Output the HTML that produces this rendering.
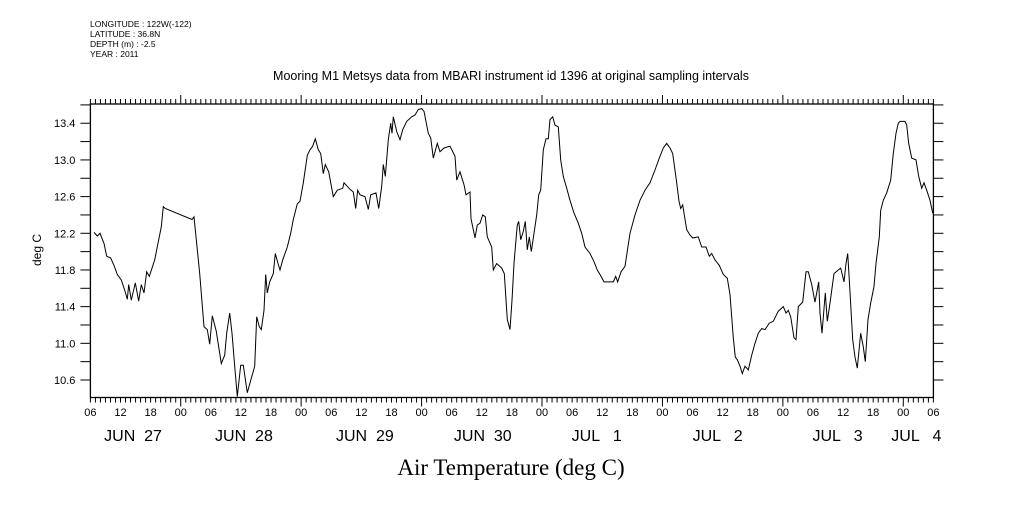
<!DOCTYPE html>
<html><head><meta charset="utf-8"><style>
body{margin:0;background:#fff;}
svg text{font-family:"Liberation Sans",sans-serif;fill:#000;}
</style></head><body>
<svg id="chart" width="1009" height="504" xmlns="http://www.w3.org/2000/svg">
<g font-size="8.5">
<text x="90" y="27">LONGITUDE : 122W(-122)</text>
<text x="90" y="37">LATITUDE : 36.8N</text>
<text x="90" y="47">DEPTH (m) : -2.5</text>
<text x="90" y="57">YEAR : 2011</text>
</g>
<text x="511" y="80" text-anchor="middle" font-size="12.5">Mooring M1 Metsys data from MBARI instrument id 1396 at original sampling intervals</text>
<text transform="translate(41,250) rotate(-90)" text-anchor="middle" font-size="12">deg C</text>
<text x="511" y="475" text-anchor="middle" style="font-family:'Liberation Serif',serif" font-size="23">Air Temperature (deg C)</text>
<g id="axes"></g>
<g id="series"></g>
</svg>
<script>
const yTicks=[10.6,11.0,11.4,11.8,12.2,12.6,13.0,13.4];
const hourLabels=["06","12","18","00","06","12","18","00","06","12","18","00","06","12","18","00","06","12","18","00","06","12","18","00","06","12","18","00","06"];
const dayLabels=["JUN  27","JUN  28","JUN  29","JUN  30","JUL   1","JUL   2","JUL   3","JUL   4"];
const dayLabelHours=[8.5,30.6,54.7,78.2,100.9,125,148.9,164.6];
const times=[0.72,1.38,1.91,2.71,3.25,4.05,4.70,5.36,6.16,6.84,7.35,7.63,8.15,8.95,9.63,10.14,10.68,11.22,11.74,12.81,13.61,14.13,14.53,14.93,20.25,20.65,21.10,21.78,22.64,23.30,23.77,24.29,25.09,25.57,26.09,26.76,27.16,27.76,28.22,28.76,29.27,29.95,30.47,31.27,32.06,32.74,33.14,33.66,34.06,34.60,34.93,35.25,35.73,36.45,36.85,37.39,37.78,38.32,39.24,39.92,40.43,41.23,41.77,42.43,43.22,43.76,44.30,44.82,45.42,45.89,46.41,46.81,47.49,48.41,49.20,50.28,50.54,51.73,52.39,52.87,53.27,53.73,54.72,55.38,55.86,56.92,57.45,58.05,58.37,58.77,59.37,59.84,60.10,60.36,61.04,61.70,62.24,63.03,64.03,64.69,65.35,66.02,66.48,67.34,67.82,68.33,69.13,69.67,70.47,71.66,72.66,73.00,73.65,74.45,74.85,75.65,75.85,76.65,77.10,77.64,78.18,78.70,79.10,79.97,80.29,80.97,81.96,82.48,83.08,83.62,84.02,84.42,84.81,85.07,85.35,85.75,86.27,86.67,87.07,87.47,87.86,88.40,88.94,89.34,89.74,90.26,90.79,91.25,91.59,92.13,92.59,93.24,93.72,94.24,94.92,95.58,96.37,97.23,97.91,98.57,99.56,100.36,101.02,101.55,102.35,103.55,104.21,104.68,105.08,105.74,106.54,107.53,108.53,109.53,110.52,111.52,112.52,113.37,114.17,114.85,115.50,116.04,116.84,117.30,117.64,118.04,118.29,118.83,119.49,120.03,121.14,121.82,122.68,123.34,123.82,124.47,125.33,126.13,126.92,127.46,128.12,128.52,128.92,129.45,129.91,130.45,131.11,131.79,132.44,133.10,133.78,134.44,135.29,136.09,137.09,138.08,138.62,139.08,139.56,140.21,140.61,141.07,141.95,142.61,143.07,143.74,144.40,144.74,145.14,145.40,145.80,146.45,146.85,147.39,148.19,149.04,149.52,150.18,150.58,150.92,151.24,151.92,152.37,152.83,153.51,154.03,154.43,154.97,155.50,156.16,156.56,157.22,157.49,158.01,158.69,159.49,160.01,160.55,161.00,161.34,162.34,162.67,163.07,163.67,164.53,165.07,165.67,166.13,166.66,167.32,167.86];
const temps=[12.21,12.17,12.20,12.09,11.95,11.93,11.85,11.75,11.69,11.58,11.48,11.64,11.47,11.66,11.46,11.64,11.55,11.78,11.73,11.91,12.13,12.27,12.49,12.47,12.35,12.38,12.13,11.76,11.18,11.15,10.99,11.30,11.13,10.96,10.78,10.87,11.11,11.33,11.11,10.75,10.42,10.76,10.76,10.46,10.62,10.75,11.29,11.18,11.15,11.36,11.75,11.55,11.67,11.76,11.98,11.87,11.80,11.91,12.05,12.20,12.35,12.52,12.55,12.75,13.05,13.11,13.15,13.23,13.11,13.07,12.85,12.95,12.87,12.60,12.67,12.69,12.75,12.68,12.65,12.47,12.67,12.62,12.60,12.46,12.62,12.64,12.47,12.71,12.95,12.82,13.22,13.40,13.29,13.47,13.31,13.22,13.33,13.42,13.47,13.49,13.55,13.56,13.53,13.29,13.24,13.02,13.18,13.09,13.13,13.15,13.04,12.78,12.87,12.73,12.62,12.65,12.36,12.15,12.29,12.31,12.40,12.38,12.16,12.05,11.80,11.87,11.82,11.76,11.26,11.15,11.47,11.87,12.13,12.29,12.33,12.13,12.22,12.33,12.02,12.16,12.00,12.20,12.40,12.62,12.67,13.11,13.23,13.23,13.44,13.47,13.38,13.36,13.00,12.82,12.69,12.56,12.42,12.31,12.20,12.05,11.98,11.89,11.80,11.75,11.67,11.67,11.67,11.73,11.67,11.78,11.84,12.20,12.40,12.56,12.67,12.75,12.89,13.02,13.13,13.18,13.13,13.07,12.75,12.55,12.47,12.51,12.42,12.24,12.18,12.15,12.16,12.05,12.05,11.95,11.98,11.91,11.85,11.75,11.71,11.53,11.06,10.85,10.82,10.75,10.67,10.75,10.71,10.87,11.00,11.11,11.16,11.15,11.22,11.24,11.35,11.40,11.33,11.36,11.29,11.06,11.04,11.40,11.45,11.78,11.78,11.64,11.45,11.55,11.67,11.33,11.11,11.55,11.24,11.44,11.76,11.80,11.82,11.67,11.87,11.98,11.69,11.04,10.85,10.73,11.11,10.96,10.80,11.26,11.44,11.62,11.87,12.16,12.45,12.56,12.64,12.78,13.07,13.29,13.40,13.42,13.42,13.38,13.18,13.02,13.00,12.82,12.69,12.75,12.67,12.56,12.42];

const NS="http://www.w3.org/2000/svg";
const L=90.4,R=933.4,T=104,B=397.5,HMAX=168;
const YMAX=13.4+(123.3-T)/91.7;
function xs(h){return L+(h/HMAX)*(R-L);}
function ys(v){return 380-(v-10.6)*91.7;}
const axes=document.getElementById('axes');
function mk(tag,attrs,parent){const e=document.createElementNS(NS,tag);for(const k in attrs)e.setAttribute(k,attrs[k]);parent.appendChild(e);return e;}
const frame=mk('rect',{x:L,y:T,width:R-L,height:B-T,fill:'none',stroke:'#000','stroke-width':1.3},axes);


for(let h=0;h<=HMAX;h++){
  const x=xs(h);const isDay=((h+6)%24===0);const len=isDay?9:5;
  const tb=mk('line',{x1:x,x2:x,y1:B,y2:B+len,stroke:'#000','stroke-width':1},axes);
  
  
  const tt=mk('line',{x1:x,x2:x,y1:T,y2:T-len,stroke:'#000','stroke-width':1},axes);
  
  
}
hourLabels.forEach((s,i)=>{
  const t=mk('text',{x:xs(i*6),y:416,'text-anchor':'middle','font-size':11},axes);
  t.textContent=s;
  
  
});
dayLabels.forEach((s,i)=>{
  const t=mk('text',{x:xs(dayLabelHours[i]),y:441,'text-anchor':'middle','font-size':16,style:'white-space:pre'},axes);
  t.textContent=s;
  
  
});
for(let k=0;k<=16;k++){
  const v=10.6+k*0.2; if(v>YMAX) break;
  const y=ys(v);
  const a=mk('line',{x1:L-10,x2:L,y1:y,y2:y,stroke:'#000','stroke-width':1},axes);
  
  
  const b=mk('line',{x1:R,x2:R+10,y1:y,y2:y,stroke:'#000','stroke-width':1},axes);
  
  
}
yTicks.forEach(v=>{
  const t=mk('text',{x:L-15,y:ys(v)+4,'text-anchor':'end','font-size':11},axes);
  t.textContent=v.toFixed(1);
  
  
});
const pts=times.map((h,i)=>xs(h).toFixed(1)+','+ys(temps[i]).toFixed(1)).join(' ');
const line=mk('polyline',{points:pts,fill:'none',stroke:'#000','stroke-width':1},document.getElementById('series'));


</script>
</body></html>
